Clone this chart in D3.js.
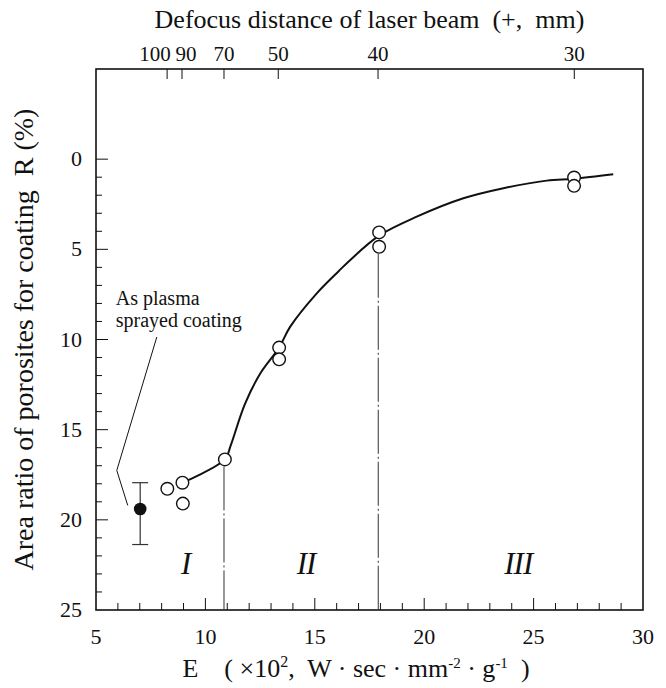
<!DOCTYPE html>
<html>
<head>
<meta charset="utf-8">
<script src="https://cdn.jsdelivr.net/npm/d3@7"></script>
<style>
body { margin: 0; background: #fff; }
text { font-family: "Liberation Serif"; fill: #111; }
</style>
</head>
<body>
<svg id="chart" width="666" height="688"></svg>
<script>
// open circles, laser treated coatings
var openE = [8.26, 8.95, 8.97, 10.89, 13.37, 13.37, 17.94, 17.94, 26.85, 26.85];
var openR = [18.28, 17.94, 19.1, 16.65, 10.45, 11.1, 4.06, 4.86, 1.02, 1.48];

// as plasma sprayed coating (filled) with spread
var sprayE = [7.02];
var sprayR = [19.4];
var sprayLo = [17.94];
var sprayHi = [21.37];

// fitted curve
var curveE = [8.95, 10.89, 11.15, 11.8, 12.5, 13.37, 13.87, 15.09, 16.1, 16.61, 17.94, 19.66, 21.79, 23.62, 25.6, 26.85, 28.64];
var curveR = [17.94, 16.65, 15.9, 13.6, 11.9, 10.45, 9.3, 7.44, 6.2, 5.6, 4.24, 3.19, 2.17, 1.61, 1.19, 1.08, 0.83];

// region borders (dash-dot lines) and their top ends
var borderE = [10.85, 17.9];
var borderTop = [16.65, 4.86];

// region labels
var regionNames = ["I", "II", "III"];
var regionE = [9.1, 14.6, 24.3];
var regionR = [23.0, 23.0, 23.0];

// top axis: defocus distance
var defocusLabels = [100, 90, 70, 50, 40, 30];
var defocusE = [8.25, 8.93, 10.85, 13.33, 17.89, 26.86];

var xTicks = [5, 10, 15, 20, 25, 30];
var yTicks = [0, 5, 10, 15, 20, 25];

// leader line for the note
var noteE = [7.78, 5.95, 6.45];
var noteR = [9.86, 17.26, 19.2];

var svg = d3.select("#chart");
var x = d3.scaleLinear().domain([5, 30]).range([96, 643]);
var y = d3.scaleLinear().domain([-5, 25]).range([69, 610]);

// frame
svg.append("rect")
    .attr("x", x(5)).attr("y", y(-5))
    .attr("width", x(30) - x(5)).attr("height", y(25) - y(-5))
    .attr("fill", "none").attr("stroke", "#111").attr("stroke-width", 1.6);

// bottom axis ticks
var bottomAxis = svg.append("g");
bottomAxis.selectAll("line").data(d3.range(6, 30)).enter().append("line")
    .attr("x1", function(d) { return x(d); }).attr("x2", function(d) { return x(d); })
    .attr("y1", y(25)).attr("y2", function(d) { return y(25) - (d % 5 == 0 ? 12 : 7); })
    .attr("stroke", "#111").attr("stroke-width", 1);
bottomAxis.selectAll("text").data(xTicks).enter().append("text")
    .attr("x", function(d) { return x(d); }).attr("y", y(25) + 34)
    .attr("text-anchor", "middle").attr("font-size", 22)
    .text(function(d) { return d; });

// left axis ticks
var leftAxis = svg.append("g");
leftAxis.selectAll("line").data(d3.range(0, 25)).enter().append("line")
    .attr("y1", function(d) { return y(d); }).attr("y2", function(d) { return y(d); })
    .attr("x1", x(5)).attr("x2", function(d) { return x(5) + (d % 5 == 0 ? 12 : 6); })
    .attr("stroke", "#111").attr("stroke-width", 1);
leftAxis.selectAll("text").data(yTicks).enter().append("text")
    .attr("x", x(5) - 14).attr("y", function(d) { return y(d) + 7; })
    .attr("text-anchor", "end").attr("font-size", 22)
    .text(function(d) { return d; });

// top axis
var topAxis = svg.append("g");
topAxis.selectAll("line").data(defocusE).enter().append("line")
    .attr("x1", function(d) { return x(d); }).attr("x2", function(d) { return x(d); })
    .attr("y1", y(-5)).attr("y2", y(-5) + 10)
    .attr("stroke", "#111").attr("stroke-width", 1);
topAxis.selectAll("text").data(defocusE).enter().append("text")
    .attr("x", function(d, i) { return x(d) + (i == 0 ? -12 : (i == 1 ? 4 : 0)); })
    .attr("y", y(-5) - 8)
    .attr("text-anchor", "middle").attr("font-size", 21)
    .text(function(d, i) { return defocusLabels[i]; });

// axis titles
svg.append("text")
    .attr("x", (x(5) + x(30)) / 2).attr("y", 28)
    .attr("text-anchor", "middle").attr("font-size", 26)
    .attr("xml:space", "preserve")
    .text("Defocus distance of laser beam  (+,  mm)");

svg.append("text")
    .attr("x", 356).attr("y", 677)
    .attr("text-anchor", "middle").attr("font-size", 26)
    .attr("xml:space", "preserve")
    .html("E    ( ×10<tspan font-size='16' dy='-10'>2</tspan><tspan dy='10'>,  W · sec · mm</tspan><tspan font-size='15' dy='-9'>-2</tspan><tspan dy='9'> · g</tspan><tspan font-size='15' dy='-9'>-1</tspan><tspan dy='9'>  )</tspan>");

svg.append("text")
    .attr("transform", "translate(33," + ((y(-5) + y(25)) / 2) + ") rotate(-90)")
    .attr("text-anchor", "middle").attr("font-size", 28)
    .attr("xml:space", "preserve")
    .text("Area ratio of porosites for coating  R (%)");

// region border lines
svg.selectAll(".border").data(borderE).enter().append("line")
    .attr("class", "border")
    .attr("x1", function(d) { return x(d); }).attr("x2", function(d) { return x(d); })
    .attr("y1", function(d, i) { return y(borderTop[i]) + 7; }).attr("y2", y(25))
    .attr("stroke", "#333").attr("stroke-width", 1)
    .attr("stroke-dasharray", "44,3,2,3");

// curve
var pts = curveE.map(function(d, i) { return [d, curveR[i]]; });
svg.append("path")
    .attr("d", d3.line().x(function(d) { return x(d[0]); }).y(function(d) { return y(d[1]); })
        .curve(d3.curveCatmullRom.alpha(0.5))(pts))
    .attr("fill", "none").attr("stroke", "#111").attr("stroke-width", 2);

// error bar
var eb = svg.append("g");
sprayE.forEach(function(d, i) {
    eb.append("line").attr("x1", x(d)).attr("x2", x(d))
        .attr("y1", y(sprayLo[i])).attr("y2", y(sprayHi[i]))
        .attr("stroke", "#333").attr("stroke-width", 1.2);
    [sprayLo[i], sprayHi[i]].forEach(function(v) {
        eb.append("line").attr("x1", x(d) - 8).attr("x2", x(d) + 8)
            .attr("y1", y(v)).attr("y2", y(v))
            .attr("stroke", "#333").attr("stroke-width", 1.2);
    });
});
svg.selectAll(".spray").data(sprayE).enter().append("circle")
    .attr("class", "spray")
    .attr("cx", function(d) { return x(d); }).attr("cy", function(d, i) { return y(sprayR[i]); })
    .attr("r", 6.3).attr("fill", "#111");

// open circles
svg.selectAll(".pt").data(openE).enter().append("circle")
    .attr("class", "pt")
    .attr("cx", function(d) { return x(d); }).attr("cy", function(d, i) { return y(openR[i]); })
    .attr("r", 6.3).attr("fill", "#fff").attr("stroke", "#111").attr("stroke-width", 1.4);

// note
var notePts = noteE.map(function(d, i) { return [d, noteR[i]]; });
svg.append("path")
    .attr("d", d3.line().x(function(d) { return x(d[0]); }).y(function(d) { return y(d[1]); })(notePts))
    .attr("fill", "none").attr("stroke", "#111").attr("stroke-width", 1);
svg.append("text").attr("x", x(5.9)).attr("y", y(8.1)).attr("font-size", 20).text("As plasma");
svg.append("text").attr("x", x(5.9)).attr("y", y(9.3)).attr("font-size", 20).text("sprayed coating");

// region labels
svg.selectAll(".region").data(regionNames).enter().append("text")
    .attr("class", "region")
    .attr("x", function(d, i) { return x(regionE[i]); }).attr("y", function(d, i) { return y(regionR[i]); })
    .attr("text-anchor", "middle").attr("font-size", 31).attr("font-style", "italic")
    .attr("letter-spacing", -1)
    .text(function(d) { return d; });

svg.selectAll("text").style("font-family", "'Liberation Serif', serif");
</script>
</body>
</html>
